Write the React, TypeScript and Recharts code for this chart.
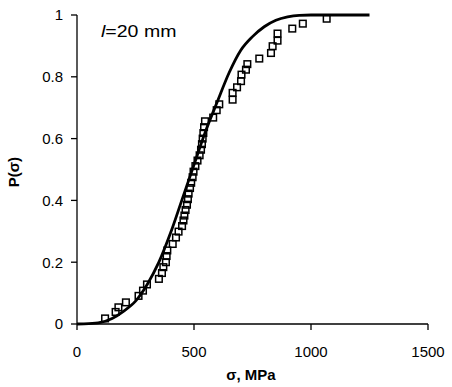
import { ComposedChart, Line, Scatter, XAxis, YAxis, Label } from 'recharts';

// observed failure stresses (MPa) and their cumulative probability
const obsSigma = [
  120, 165, 177, 209, 263, 282, 299, 350, 363, 369, 380, 383, 386, 409, 423, 434,
  449, 455, 459, 464, 470, 474, 477, 483, 488, 494, 498, 506, 515, 524, 530, 534,
  537, 540, 543, 547, 582, 597, 608, 665, 665, 684, 701, 703, 722, 728, 779, 829,
  836, 857, 857, 920, 965, 1067,
];
const obsP = [
  0.018, 0.039, 0.054, 0.07, 0.091, 0.108, 0.128, 0.146, 0.165, 0.184, 0.2, 0.22,
  0.238, 0.259, 0.28, 0.299, 0.317, 0.335, 0.351, 0.369, 0.386, 0.404, 0.422, 0.44,
  0.457, 0.475, 0.493, 0.511, 0.529, 0.546, 0.564, 0.582, 0.6, 0.618, 0.637, 0.656,
  0.668, 0.692, 0.711, 0.726, 0.748, 0.766, 0.786, 0.807, 0.823, 0.841, 0.859, 0.877,
  0.899, 0.917, 0.94, 0.956, 0.972, 0.988,
];

// fitted distribution curve
const curveSigma = [0, 50, 100, 150, 200, 250, 300, 350, 400, 450, 500, 550, 600, 650, 700, 750, 800, 850, 900, 950, 1000, 1250];
const curveP = [0, 0.001, 0.005, 0.018, 0.042, 0.074, 0.128, 0.2, 0.295, 0.405, 0.515, 0.625, 0.72, 0.813, 0.886, 0.93, 0.962, 0.983, 0.994, 0.999, 1, 1];

const xTicks = [0, 500, 1000, 1500];
const yTicks = [0, 0.2, 0.4, 0.6, 0.8, 1];

const observed = obsSigma.map((s, i) => ({ s, p: obsP[i] }));
const curve = curveSigma.map((s, i) => ({ s, p: curveP[i] }));

const font = '"Liberation Sans", Arial, sans-serif';
const tickStyle = { fontSize: 15, fill: '#000', fontFamily: font };

const Square = (props: any) => {
  const { cx, cy } = props;
  if (cx == null || cy == null) return null;
  return <rect x={cx - 3.3} y={cy - 3.3} width={6.6} height={6.6} fill="none" stroke="#000" strokeWidth={1.5} />;
};

export default function App() {
  return (
    <div style={{ position: 'absolute', left: 0, top: 0, width: 452, height: 387, background: '#fff' }}>
      <ComposedChart width={452} height={387} data={curve} margin={{ top: 15, right: 24, left: 0, bottom: 0 }}>
        <XAxis
          dataKey="s"
          type="number"
          domain={[0, 1500]}
          ticks={xTicks}
          height={63}
          tick={tickStyle}
          tickSize={6}
          tickMargin={16}
          axisLine={{ stroke: '#000', strokeWidth: 1.3 }}
          tickLine={{ stroke: '#000', strokeWidth: 1.3 }}
        >
          <Label
            content={() => (
              <text x={251} y={380} textAnchor="middle" fontFamily={font} fontSize={15} fontWeight="bold" fill="#000">
                σ, MPa
              </text>
            )}
          />
        </XAxis>
        <YAxis
          type="number"
          domain={[0, 1]}
          ticks={yTicks}
          width={77}
          tick={tickStyle}
          tickSize={6}
          tickMargin={8}
          axisLine={{ stroke: '#000', strokeWidth: 1.3 }}
          tickLine={{ stroke: '#000', strokeWidth: 1.3 }}
        >
          <Label
            content={() => (
              <text
                x={19}
                y={172}
                transform="rotate(-90 19 172)"
                textAnchor="middle"
                fontFamily={font}
                fontSize={15}
                fontWeight="bold"
                fill="#000"
              >
                P(σ)
              </text>
            )}
          />
        </YAxis>
        <Line
          data={curve}
          dataKey="p"
          type="monotone"
          stroke="#000"
          strokeWidth={2.8}
          dot={false}
          activeDot={false}
          isAnimationActive={false}
        />
        <Scatter data={observed} dataKey="p" shape={Square} isAnimationActive={false} />
      </ComposedChart>
      <div
        style={{
          position: 'absolute',
          left: 101,
          top: 23,
          fontFamily: font,
          fontSize: 16,
          lineHeight: '18px',
          color: '#000',
          whiteSpace: 'nowrap',
          transform: 'scaleX(1.22)',
          transformOrigin: 'left center',
        }}
      >
        <i>l</i>=20 mm
      </div>
    </div>
  );
}
